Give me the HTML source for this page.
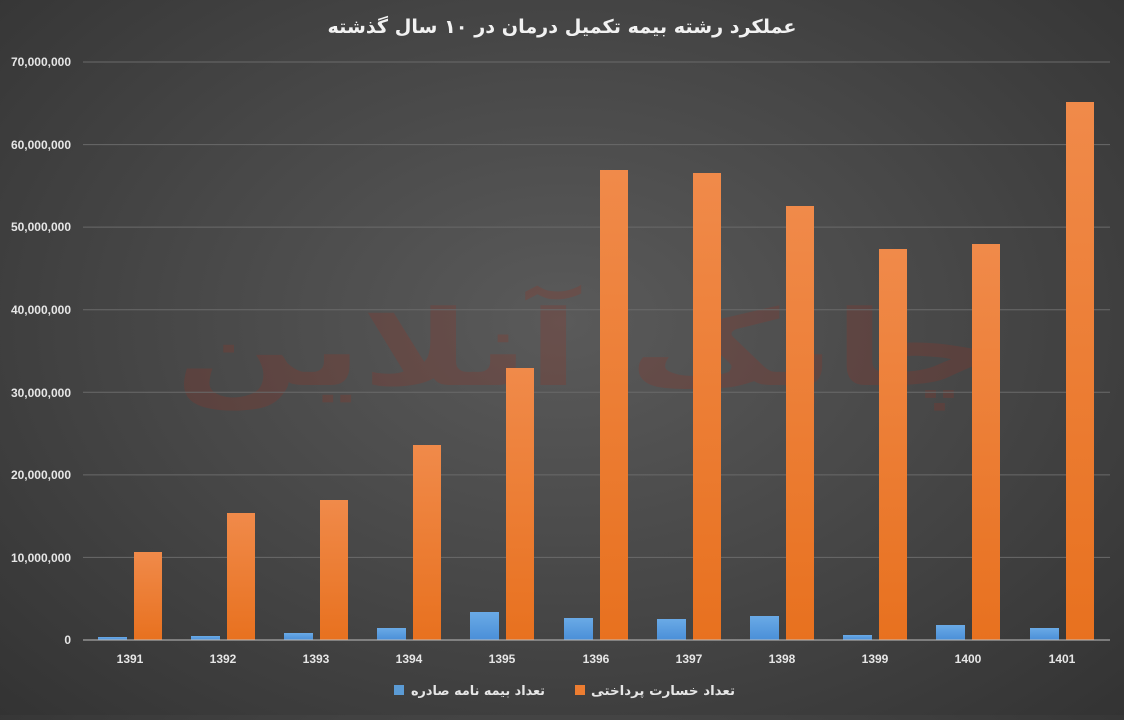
<!DOCTYPE html>
<html><head><meta charset="utf-8"><style>
body{margin:0;width:1124px;height:715px;overflow:hidden;background:radial-gradient(ellipse at 50% 45%,#5a5a5a 0%,#474747 50%,#333 100%);font-family:"Liberation Sans","DejaVu Sans",sans-serif;}
</style></head><body>
<svg width="1124" height="715" xmlns="http://www.w3.org/2000/svg">
<defs>
<linearGradient id="o" x1="0" y1="0" x2="0" y2="1"><stop offset="0" stop-color="#f08a4a"/><stop offset="1" stop-color="#e8711f"/></linearGradient>
<linearGradient id="b" x1="0" y1="0" x2="0" y2="1"><stop offset="0" stop-color="#6aaae6"/><stop offset="1" stop-color="#4a8fd8"/></linearGradient>
</defs>
<text x="562" y="33" text-anchor="middle" font-size="19" font-weight="bold" fill="#f2f2f2" font-family="'DejaVu Sans',sans-serif" textLength="469" lengthAdjust="spacingAndGlyphs">عملکرد رشته بیمه تکمیل درمان در ۱۰ سال گذشته</text>
<text x="585" y="385" text-anchor="middle" font-size="105" font-weight="bold" fill="#a03020" opacity="0.22" font-family="'DejaVu Sans',sans-serif" textLength="820" lengthAdjust="spacingAndGlyphs">چابک آنلاین</text>
<g stroke="#6a6a6a" stroke-width="1">
<line x1="83" x2="1110" y1="557.4" y2="557.4"/><line x1="83" x2="1110" y1="474.9" y2="474.9"/><line x1="83" x2="1110" y1="392.3" y2="392.3"/><line x1="83" x2="1110" y1="309.7" y2="309.7"/><line x1="83" x2="1110" y1="227.1" y2="227.1"/><line x1="83" x2="1110" y1="144.6" y2="144.6"/><line x1="83" x2="1110" y1="62" y2="62"/>
</g>
<g fill="#e6e6e6" font-size="12" font-weight="bold" text-anchor="end">
<text x="71" y="644">0</text><text x="71" y="562">10,000,000</text><text x="71" y="479">20,000,000</text><text x="71" y="397">30,000,000</text><text x="71" y="314">40,000,000</text><text x="71" y="231">50,000,000</text><text x="71" y="149">60,000,000</text><text x="71" y="66">70,000,000</text>
</g>
<g fill="url(#o)">
<rect x="134" y="552" width="28" height="88"/><rect x="227" y="513" width="28" height="127"/><rect x="320" y="500" width="28" height="140"/><rect x="413" y="445" width="28" height="195"/><rect x="506" y="368" width="28" height="272"/><rect x="600" y="170" width="28" height="470"/><rect x="693" y="173" width="28" height="467"/><rect x="786" y="206" width="28" height="434"/><rect x="879" y="249" width="28" height="391"/><rect x="972" y="244" width="28" height="396"/><rect x="1066" y="102" width="28" height="538"/>
</g>
<g fill="url(#b)">
<rect x="98" y="637" width="29" height="3"/><rect x="191" y="636" width="29" height="4"/><rect x="284" y="633" width="29" height="7"/><rect x="377" y="628" width="29" height="12"/><rect x="470" y="612" width="29" height="28"/><rect x="564" y="618" width="29" height="22"/><rect x="657" y="619" width="29" height="21"/><rect x="750" y="616" width="29" height="24"/><rect x="843" y="635" width="29" height="5"/><rect x="936" y="625" width="29" height="15"/><rect x="1030" y="628" width="29" height="12"/>
</g>
<line x1="83" x2="1110" y1="640" y2="640" stroke="#bfbfbf" stroke-width="1"/>
<g fill="#e6e6e6" font-size="12" font-weight="bold" text-anchor="middle">
<text x="130" y="663">1391</text><text x="223" y="663">1392</text><text x="316" y="663">1393</text><text x="409" y="663">1394</text><text x="502" y="663">1395</text><text x="596" y="663">1396</text><text x="689" y="663">1397</text><text x="782" y="663">1398</text><text x="875" y="663">1399</text><text x="968" y="663">1400</text><text x="1062" y="663">1401</text>
</g>
<rect x="394" y="685" width="10" height="10" fill="#5b9bd5"/>
<text x="545" y="695" text-anchor="end" font-size="13" font-weight="bold" fill="#e6e6e6" font-family="'DejaVu Sans',sans-serif" textLength="134" lengthAdjust="spacingAndGlyphs">تعداد بیمه نامه صادره</text>
<rect x="575" y="685" width="10" height="10" fill="#ed7d31"/>
<text x="735" y="695" text-anchor="end" font-size="13" font-weight="bold" fill="#e6e6e6" font-family="'DejaVu Sans',sans-serif" textLength="144" lengthAdjust="spacingAndGlyphs">تعداد خسارت پرداختی</text>
</svg>
</body></html>
